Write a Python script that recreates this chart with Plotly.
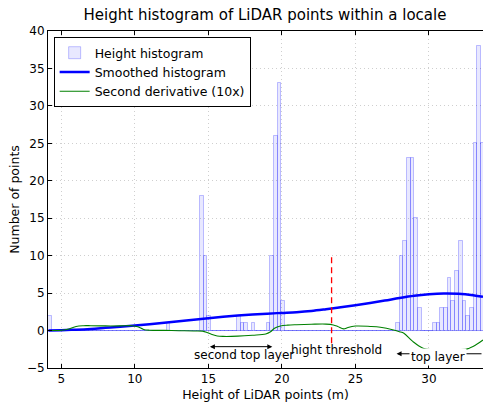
import plotly.graph_objects as go

# ---------------- data ----------------
bin_start = 4.12
bin_width = 0.2515
hist_counts = [
    2, 0, 0, 0, 0, 0, 0, 0, 0, 0,
    0, 0, 0, 0, 0, 0, 0, 0, 0, 0,
    0, 0, 0, 0, 0, 0, 0, 0, 0, 0,
    0, 0, 1, 0, 0, 0, 0, 0, 0, 0,
    0, 18, 10, 2, 0, 0, 0, 0, 0, 0,
    0, 2, 1, 1, 0, 1, 0, 0, 0, 1,
    10, 26, 33, 4, 0, 0, 0, 0, 0, 0,
    0, 0, 0, 0, 0, 0, 0, 0, 0, 0,
    0, 0, 0, 0, 0, 0, 0, 0, 0, 0,
    0, 0, 0, 0, 1, 10, 12, 23, 23, 15,
    3, 0, 0, 0, 1, 1, 3, 3, 7, 4,
    8, 12, 4, 2, 3, 25, 38, 25,
]

smooth_x = [4.12, 5, 6, 7, 8, 9, 10, 11, 12, 13, 14, 15, 16, 17, 18, 19, 20, 21,
            22, 23, 24, 25, 26, 27, 28, 29, 30, 31, 32, 33, 33.68]
smooth_y = [0.0, 0.05, 0.12, 0.22, 0.36, 0.5, 0.66, 0.85, 1.05, 1.25, 1.45, 1.65,
            1.85, 2.02, 2.15, 2.26, 2.36, 2.46, 2.62, 2.85, 3.1, 3.38, 3.68, 4.0,
            4.35, 4.65, 4.85, 4.96, 4.92, 4.72, 4.5]

deriv_x = [4.12, 5.0, 5.5, 6.0, 6.5, 7, 8, 9, 9.8, 10.2, 10.6, 11, 12, 13, 14, 14.6,
           14.9, 15.2, 15.6, 16, 17, 18, 18.9, 19.2, 19.5, 19.9, 20.4, 21, 22, 23,
           23.5, 23.8, 24.2, 24.5, 25, 26, 26.7, 27.6, 28.0, 28.3, 28.9, 29.6, 30.2,
           31, 32, 32.6, 33.2, 33.68]
deriv_y = [0.0, 0.05, 0.2, 0.55, 0.65, 0.65, 0.62, 0.62, 0.65, 0.5, 0.15, 0.05,
           0.02, -0.02, -0.05, -0.08, -0.25, -0.5, -0.72, -0.78, -0.75, -0.62,
           -0.45, -0.2, 0.3, 0.6, 0.72, 0.78, 0.84, 0.86, 0.75, 0.55, 0.22, 0.42,
           0.6, 0.55, 0.44, 0.08, -0.15, -0.37, -1.45, -2.35, -2.55, -2.6, -2.55,
           -2.45, -1.9, -1.26]

threshold_x = 23.38
threshold_span = [-1.7, 10]

second_layer = [15.0, 19.35]
top_layer = [27.8, 33.68]

x_ticks = [5, 10, 15, 20, 25, 30]
y_ticks = [-5, 0, 5, 10, 15, 20, 25, 30, 35, 40]
x_range = [4.09, 33.68]
y_range = [-5, 40]

# ---------------- figure ----------------
centers = [bin_start + (i + 0.5) * bin_width for i in range(len(hist_counts))]
edges_lo = bin_start
edges_hi = bin_start + len(hist_counts) * bin_width

fig = go.Figure()

fig.add_trace(go.Scatter(
    x=[edges_lo, edges_hi], y=[0, 0], mode="lines",
    line=dict(color="rgba(0,0,255,0.2)", width=1),
    showlegend=False, hoverinfo="skip"))

fig.add_trace(go.Bar(
    x=centers, y=hist_counts, width=bin_width,
    marker=dict(color="rgba(0,0,255,0.09)",
                line=dict(color="rgba(0,0,255,0.24)", width=1)),
    name="Height histogram"))

fig.add_trace(go.Scatter(
    x=smooth_x, y=smooth_y, mode="lines", line_shape="spline",
    line=dict(color="#0000ff", width=2.5), name="Smoothed histogram"))

fig.add_trace(go.Scatter(
    x=deriv_x, y=deriv_y, mode="lines", line_shape="spline",
    line=dict(color="#008000", width=1.1), name="Second derivative (10x)"))

fig.add_trace(go.Scatter(
    x=[threshold_x, threshold_x], y=threshold_span, mode="lines",
    line=dict(color="#ff0000", width=1.3, dash="6px,4px"),
    showlegend=False, hoverinfo="skip"))

# arrows
fig.add_annotation(x=second_layer[1], y=-2.15, ax=second_layer[0], ay=-2.15,
                   xref="x", yref="y", axref="x", ayref="y", text="",
                   showarrow=True, arrowhead=2, arrowside="end+start",
                   arrowsize=1, arrowwidth=1, arrowcolor="black")
fig.add_annotation(x=top_layer[0], y=-3.1, ax=top_layer[1], ay=-3.1,
                   xref="x", yref="y", axref="x", ayref="y", text="",
                   showarrow=True, arrowhead=2, arrowside="end",
                   arrowsize=1, arrowwidth=1, arrowcolor="black")

fig.add_annotation(x=17.4, y=-3.3, text="second top layer", showarrow=False,
                   font=dict(size=12, color="black"))
fig.add_annotation(x=23.74, y=-2.55, text="hight threshold", showarrow=False,
                   font=dict(size=12, color="black"))
fig.add_annotation(x=30.64, y=-3.55, text="top layer", showarrow=False,
                   font=dict(size=12, color="black"), bgcolor="white",
                   borderpad=1)

fig.update_layout(
    width=483, height=406,
    margin=dict(l=48, r=0, t=31, b=38, autoexpand=False),
    plot_bgcolor="white", paper_bgcolor="white",
    font=dict(family="DejaVu Sans", size=12, color="black"),
    title=dict(text="Height histogram of LiDAR points within a locale",
               x=265 / 483, xref="container", y=1 - 15 / 406, yref="container",
               yanchor="middle", xanchor="center",
               font=dict(size=15, color="black")),
    bargap=0,
    legend=dict(x=0.013, y=0.982, xanchor="left", yanchor="top",
                bordercolor="black", borderwidth=1, bgcolor="white",
                font=dict(size=12.5), tracegroupgap=0),
    showlegend=True,
)

fig.update_xaxes(
    range=x_range, tickvals=x_ticks, ticks="inside", ticklen=4,
    tickcolor="black", showline=True, linecolor="black", linewidth=1,
    mirror="ticks", showgrid=True, gridcolor="#cfcfcf", griddash="1px,3px",
    gridwidth=1, zeroline=False, automargin=False,
    title=dict(text="Height of LiDAR points (m)", font=dict(size=12.5), standoff=4),
    tickfont=dict(size=12))
fig.update_yaxes(
    range=y_range, tickvals=y_ticks, ticks="inside", ticklen=4,
    tickcolor="black", showline=True, linecolor="black", linewidth=1,
    mirror=False, showgrid=True, gridcolor="#cfcfcf", griddash="1px,3px",
    gridwidth=1, zeroline=False, automargin=False,
    title=dict(text="Number of points", font=dict(size=12.5), standoff=4),
    tickfont=dict(size=12))

fig.write_html(
    "out.html",
    config={"displayModeBar": False},
    post_script="document.body.style.margin='0';document.body.style.padding='0';"
                "window.dispatchEvent(new Event('resize'));")
